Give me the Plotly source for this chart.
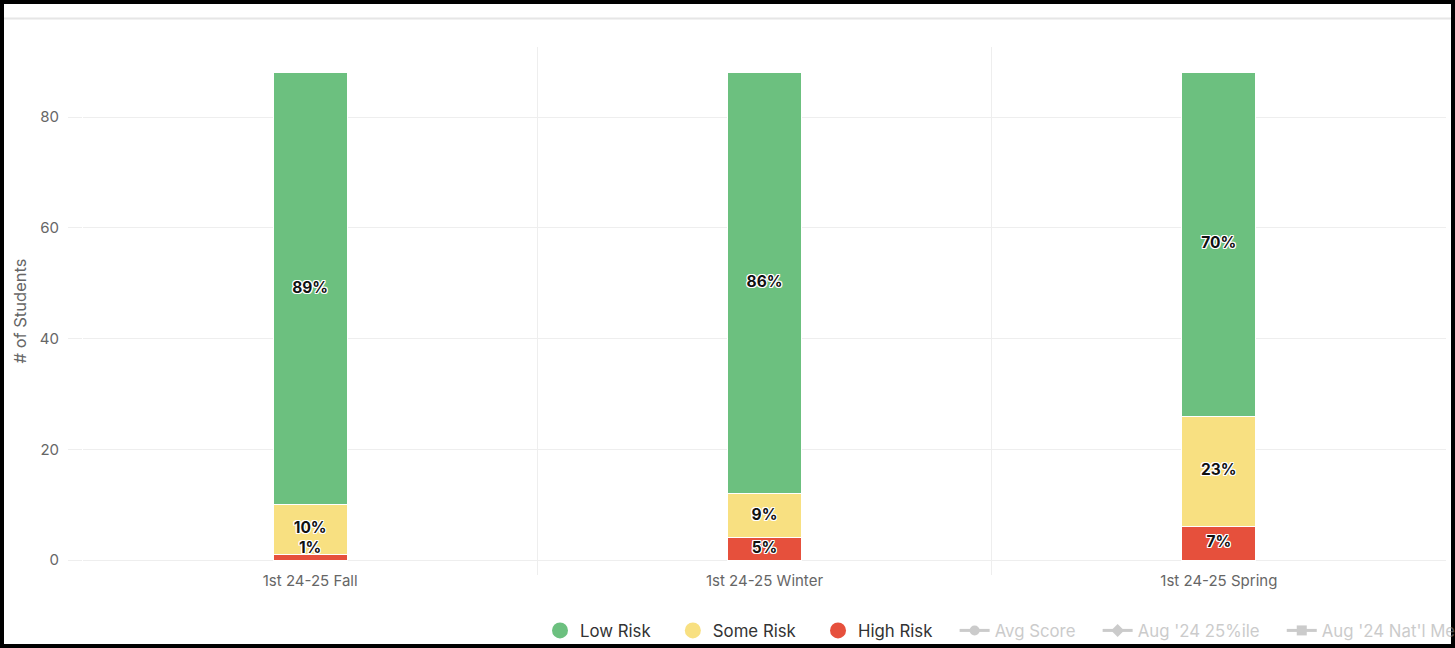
import numpy as np
import plotly.graph_objects as go

# ---- data ----
categories = ["1st 24-25 Fall", "1st 24-25 Winter", "1st 24-25 Spring"]
high_risk = [1, 4, 6]
some_risk = [9, 8, 20]
low_risk = [78, 76, 62]
y_tick_vals = [0, 20, 40, 60, 80]
hidden_series = ["Avg Score", "Aug '24 25%ile", "Aug '24 Nat'l Median"]
hidden_symbols = ["circle", "diamond", "square"]

stack = [high_risk, some_risk, low_risk]
totals = np.sum(np.array(stack), axis=0)


def pct(vals):
    return [f"{int(round(v / t * 100))}%" for v, t in zip(vals, totals)]


# ---- styling ----
GREEN = "#6cc07f"
YELLOW = "#f8e081"
RED = "#e6503c"
FONT = "Inter"
W, H = 1455, 648
L, R, T, B = 83, 9, 47, 73
PW, PH = W - L - R, H - T - B
LABEL_MIN = 2.0  # keep labels from dipping below the baseline
PAD = "\u00a0" * 3 + "\u2009"  # extra spacing between legend entries


def px(x):
    return (x - L) / PW


def py(y):
    return (H - B - y) / PH


outline = ("-1px -1px 0 #fff, 1px -1px 0 #fff, -1px 1px 0 #fff, 1px 1px 0 #fff, "
           "0 1px 0 #fff, 0 -1px 0 #fff, 1px 0 0 #fff, -1px 0 0 #fff")

fig = go.Figure()

series = [
    ("High Risk", high_risk, RED, "high"),
    ("Some Risk", some_risk, YELLOW, "some"),
    ("Low Risk", low_risk, GREEN, "low"),
]

for name, vals, color, grp in series:
    fig.add_trace(go.Bar(
        x=categories, y=vals, name=name, legendgroup=grp, showlegend=False,
        marker=dict(color=color, line=dict(color="white", width=1)),
        width=0.163,
    ))

# labels on top of all bars
base = np.zeros(len(categories))
for name, vals, color, grp in series:
    v = np.array(vals, dtype=float)
    mid = np.maximum(base + v / 2, LABEL_MIN)
    fig.add_trace(go.Scatter(
        x=categories, y=mid, mode="text", text=pct(vals), showlegend=False,
        legendgroup=grp, hoverinfo="skip", cliponaxis=False,
        textfont=dict(family=FONT, size=15.5, color="#111", weight=700, shadow=outline),
    ))
    base = base + v

for rank, (name, color, grp) in enumerate([
    ("Low Risk", GREEN, "low"),
    ("Some Risk", YELLOW, "some"),
    ("High Risk", RED, "high"),
], start=1):
    fig.add_trace(go.Scatter(
        x=[None], y=[None], mode="markers", name=name + PAD, legendgroup=grp,
        legendrank=rank,
        marker=dict(symbol="circle", size=16, color=color),
    ))

for i, (name, sym) in enumerate(zip(hidden_series, hidden_symbols)):
    fig.add_trace(go.Scatter(
        x=[None], y=[None], mode="lines+markers", visible="legendonly",
        name=f"<span style='color:#999999'>{name}</span>" + PAD, legendrank=4 + i,
        line=dict(color="#999999", width=3),
        marker=dict(symbol=sym, size=10, color="#999999"),
    ))

fig.update_layout(
    width=W, height=H,
    margin=dict(l=L, r=R, t=T, b=B, autoexpand=False),
    paper_bgcolor="white", plot_bgcolor="white",
    barmode="stack",
    font=dict(family=FONT, color="#666666"),
    xaxis=dict(
        type="category", tickson="boundaries", showgrid=True, gridcolor="#eeeeee",
        ticks="", showline=False, zeroline=False,
        tickfont=dict(size=15, color="#666666"), ticklabelstandoff=-5,
        range=[-0.5, 2.5],
    ),
    yaxis=dict(
        range=[-(H - B - 560) / 5.5375, (560 - T) / 5.5375],
        tickvals=y_tick_vals, showgrid=True, gridcolor="#eeeeee", zeroline=False,
        ticks="outside", ticklen=14, tickcolor="#eeeeee", tickwidth=1,
        tickfont=dict(size=15, color="#666666"), ticklabelstandoff=6,
        showline=False,
        title=dict(text="# of Students", font=dict(size=16.5, color="#666666"), standoff=9),
    ),
    legend=dict(
        orientation="h", x=px(540), xanchor="left", y=py(613), yanchor="top",
        font=dict(size=16.8, color="#333333"), traceorder="normal",
        bgcolor="rgba(0,0,0,0)",
    ),
    showlegend=True,
    shapes=[
        dict(type="line", xref="paper", yref="paper", x0=px(4), x1=px(1451),
             y0=py(18.5), y1=py(18.5), line=dict(color="#e6e6e6", width=2)),
        dict(type="rect", xref="paper", yref="paper", x0=px(2), x1=px(1453),
             y0=py(646), y1=py(2), line=dict(color="black", width=4)),
    ],
)

fig.write_html("out.html")
